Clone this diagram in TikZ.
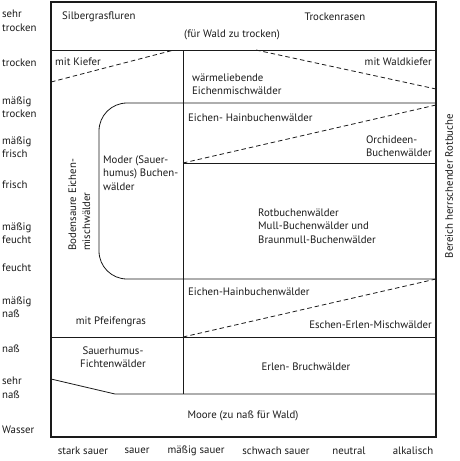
\documentclass[tikz,border=0pt]{standalone}
\usepackage{fontspec}
\setmainfont{PT Sans}
\usepackage{tikz}
\usepackage{xcolor}
\definecolor{ChartInk}{HTML}{1A1A1A}

\begin{document}
\begin{tikzpicture}[
    x=1pt, y=-1pt,
    frame/.style={draw=ChartInk, line width=1.1pt},
    divider/.style={draw=ChartInk, line width=0.8pt},
    trend/.style={draw=ChartInk, line width=0.8pt, dash pattern=on 4.5pt off 3pt},
    zone/.style={font=\fontsize{10.8}{13.5}\selectfont, text=ChartInk, inner sep=0pt, align=left},
    axis/.style={zone},
  ]
    \useasboundingbox (0,0) rectangle (459,461);
    % outer frame
    \draw[frame] (51,2) rectangle (436,437);
    % horizontal dividers
    \draw[divider] (51,50) -- (436,50);
    \draw[divider, rounded corners=28pt] (436,103) -- (99,103) -- (99,279) -- (436,279);
    \draw[divider] (183,163) -- (436,163);
    \draw[divider] (51,337) -- (436,337);
    \draw[divider] (51,379) -- (115,394) -- (436,394);
    \draw[divider] (183,50) -- (183,394);
    % dashed transitions
    \draw[trend] (51,82) -- (174,50);
    \draw[trend] (256,50) -- (436,89);
    \draw[trend] (183,163) -- (436,105);
    \draw[trend] (183,337) -- (436,279);

    % moisture axis
    \node[axis, anchor=west] (m1) at (2,21) {sehr\\trocken};
    \node[axis, anchor=west] (m2) at (2,63) {trocken};
    \node[axis, anchor=west] (m3) at (2,107) {mäßig\\trocken};
    \node[axis, anchor=west] (m4) at (2,147) {mäßig\\frisch};
    \node[axis, anchor=west] (m5) at (2,185) {frisch};
    \node[axis, anchor=west] (m6) at (2,233) {mäßig\\feucht};
    \node[axis, anchor=west] (m7) at (2,268) {feucht};
    \node[axis, anchor=west] (m8) at (2,307) {mäßig\\naß};
    \node[axis, anchor=west] (m9) at (2,349) {naß};
    \node[axis, anchor=west] (m10) at (2,388) {sehr\\naß};
    \node[axis, anchor=west] (m11) at (2,430) {Wasser};
    % acidity axis
    \node[axis] (a1) at (83,451) {stark sauer};
    \node[axis] (a2) at (137,451) {sauer};
    \node[axis] (a3) at (196,451) {mäßig sauer};
    \node[axis] (a4) at (276,451) {schwach sauer};
    \node[axis] (a5) at (349,451) {neutral};
    \node[axis] (a6) at (413,451) {alkalisch};
    \node[axis, rotate=90] (beech) at (449,186) {Bereich herrschender Rotbuche};

    % vegetation zones
    \node[zone, anchor=west] (silber) at (62,17) {Silbergrasfluren};
    \node[zone] (rasen) at (335,17) {Trockenrasen};
    \node[zone] (zutrocken) at (232,35) {(für Wald zu trocken)};
    \node[zone, anchor=west] (kiefer) at (55,62) {mit Kiefer};
    \node[zone, anchor=east] (waldkiefer) at (432,62) {mit Waldkiefer};
    \node[zone, anchor=west] (warm) at (192,84) {wärmeliebende\\Eichenmischwälder};
    \node[zone, anchor=west] (hain1) at (188,118) {Eichen- Hainbuchenwälder};
    \node[zone, anchor=east] (orchid) at (432,146) {Orchideen-\\Buchenwälder};
    \node[zone, anchor=west] (moder) at (103,173) {Moder (Sauer-\\humus) Buchen-\\wälder};
    \node[zone, rotate=90, anchor=base west] (boden) at (76,251) {Bodensaure Eichen-};
    \node[zone, rotate=90, anchor=base west] (bodenb) at (90,251) {mischwälder};
    \node[zone, anchor=west] (rot) at (258,226) {Rotbuchenwälder\\Mull-Buchenwälder und\\Braunmull-Buchenwälder};
    \node[zone, anchor=west] (hain2) at (188,292) {Eichen-Hainbuchenwälder};
    \node[zone, anchor=east] (eschen) at (432,325) {Eschen-Erlen-Mischwälder};
    \node[zone] (pfeifen) at (111,322) {mit Pfeifengras};
    \node[zone, align=center] (fichte) at (113,357) {Sauerhumus-\\Fichtenwälder};
    \node[zone] (bruch) at (306,367) {Erlen- Bruchwälder};
    \node[zone] (moore) at (243,416) {Moore (zu naß für Wald)};
  \end{tikzpicture}
\end{document}
